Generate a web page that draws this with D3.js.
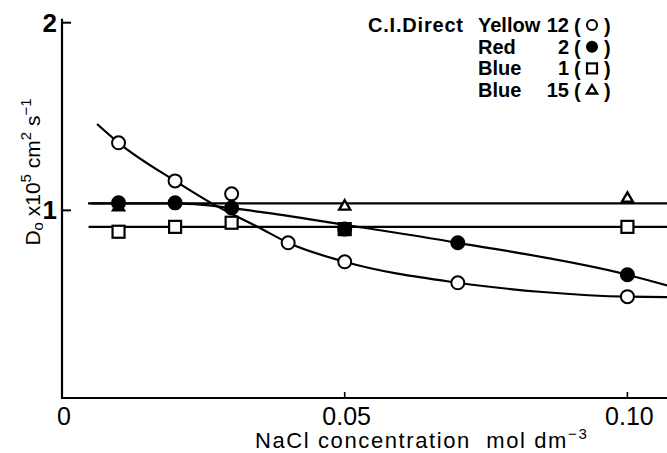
<!DOCTYPE html>
<html>
<head>
<meta charset="utf-8">
<script src="https://cdn.jsdelivr.net/npm/d3@7"></script>
<style>
    body { margin: 0; background: #fff; }
    svg { display: block; font-family: "Liberation Sans", Arial, sans-serif; }
    .tick-label { font-size: 25px; fill: #000; }
    .axis-title { font-size: 22px; fill: #000; }
    .legend { font-size: 20px; fill: #000; font-weight: bold; }
</style>
</head>
<body>
<div id="chart"></div>
<script>
// measured points, C.I. Direct dyes
const concYellow12 = [0.01, 0.02, 0.03, 0.04, 0.05, 0.07, 0.10];
const dYellow12 = [1.36, 1.157, 1.088, 0.827, 0.726, 0.614, 0.54];

const concRed2 = [0.01, 0.02, 0.03, 0.05, 0.07, 0.10];
const dRed2 = [1.04, 1.04, 1.013, 0.90, 0.827, 0.657];

const concBlue1 = [0.01, 0.02, 0.03, 0.05, 0.10];
const dBlue1 = [0.886, 0.912, 0.934, 0.90, 0.912];

const concBlue15 = [0.01, 0.05, 0.10];
const dBlue15 = [1.02, 1.024, 1.066];

// drawn-in curves
const fitYellowX = [0.0062, 0.01, 0.02, 0.0265, 0.035, 0.04, 0.05, 0.07, 0.085, 0.10, 0.107];
const fitYellowY = [1.46, 1.36, 1.157, 1.037, 0.906, 0.827, 0.726, 0.614, 0.565, 0.54, 0.538];
const fitRedX = [0.005, 0.02, 0.035, 0.05, 0.07, 0.10, 0.107];
const fitRedY = [1.037, 1.037, 0.992, 0.923, 0.827, 0.657, 0.6];
const fitBlue15X = [0.0046, 0.107];
const fitBlue15Y = [1.037, 1.037];
const fitBlue1X = [0.0047, 0.107];
const fitBlue1Y = [0.912, 0.912];

const xTicks = [0, 0.05, 0.10];
const xTickLabels = ['0', '0.05', '0.10'];
const yTicks = [1, 2];
const yTickLabels = ['1', '2'];

const legendNames = ['Yellow', 'Red', 'Blue', 'Blue'];
const legendNumbers = ['12', '2', '1', '15'];
const legendSymbols = ['circle', 'dot', 'square', 'triangle'];

const width = 667;
const height = 453;

const x = d3.scaleLinear().domain([0, 0.107]).range([62, 667]);
const y = d3.scaleLinear().domain([0, 2]).range([398, 22.7]);

const svg = d3.select('#chart')
    .append('svg')
    .attr('width', width)
    .attr('height', height);

// axes
svg.append('line')
    .attr('x1', x(0)).attr('x2', x(0))
    .attr('y1', y(2) - 4).attr('y2', y(0))
    .attr('stroke', '#000').attr('stroke-width', 2.2);

svg.append('line')
    .attr('x1', x(0) - 1).attr('x2', width)
    .attr('y1', y(0)).attr('y2', y(0))
    .attr('stroke', '#000').attr('stroke-width', 2.2);

yTicks.forEach((v, i) => {
    svg.append('line')
        .attr('x1', x(0)).attr('x2', x(0) + 9)
        .attr('y1', y(v)).attr('y2', y(v))
        .attr('stroke', '#000').attr('stroke-width', 2);
    svg.append('text')
        .attr('class', 'tick-label')
        .attr('x', x(0) - 5)
        .attr('y', y(v) + 9)
        .attr('text-anchor', 'end')
        .style('font-size', '26px')
        .style('font-weight', 'bold')
        .text(yTickLabels[i]);
});

xTicks.forEach((v, i) => {
    if (v > 0) {
        svg.append('line')
            .attr('x1', x(v)).attr('x2', x(v))
            .attr('y1', y(0)).attr('y2', y(0) - 6)
            .attr('stroke', '#000').attr('stroke-width', 1.6);
    }
    svg.append('text')
        .attr('class', 'tick-label')
        .attr('x', x(v) + 2)
        .attr('y', y(0) + 27)
        .attr('text-anchor', 'middle')
        .text(xTickLabels[i]);
});

// axis titles
const xTitle = svg.append('text')
    .attr('class', 'axis-title')
    .attr('x', 255)
    .attr('y', 448)
    .style('letter-spacing', '1.6px');
xTitle.append('tspan').text('NaCl concentration\u00a0\u00a0mol dm');
xTitle.append('tspan').attr('dy', -9).style('font-size', '15px').text('\u22123');

const yTitle = svg.append('text')
    .attr('class', 'axis-title')
    .attr('transform', 'translate(40, 172) rotate(-90)')
    .attr('text-anchor', 'middle')
    .style('font-size', '21px');
yTitle.append('tspan').text('D');
yTitle.append('tspan').attr('dy', 3).style('font-size', '15px').text('o');
yTitle.append('tspan').attr('dy', -3).text(' x10');
yTitle.append('tspan').attr('dy', -9).style('font-size', '15px').text('5');
yTitle.append('tspan').attr('dy', 9).text(' cm');
yTitle.append('tspan').attr('dy', -9).style('font-size', '15px').text('2');
yTitle.append('tspan').attr('dy', 9).text(' s');
yTitle.append('tspan').attr('dy', -9).style('font-size', '15px').text('\u22121');

// curves
const line = d3.line().x((d) => x(d[0])).y((d) => y(d[1]));
const smooth = d3.line().x((d) => x(d[0])).y((d) => y(d[1])).curve(d3.curveMonotoneX);

const curves = [
    { xs: fitBlue15X, ys: fitBlue15Y, gen: line },
    { xs: fitBlue1X, ys: fitBlue1Y, gen: line },
    { xs: fitRedX, ys: fitRedY, gen: smooth },
    { xs: fitYellowX, ys: fitYellowY, gen: smooth },
];

curves.forEach((c) => {
    svg.append('path')
        .attr('d', c.gen(c.xs.map((v, i) => [v, c.ys[i]])))
        .attr('fill', 'none')
        .attr('stroke', '#000')
        .attr('stroke-width', 2.2);
});

// markers
function drawMarker(g, kind, cx, cy, s) {
    const r = s || 6;
    if (kind === 'circle' || kind === 'dot') {
        g.append('circle')
            .attr('cx', cx).attr('cy', cy).attr('r', r)
            .attr('fill', kind === 'dot' ? '#000' : '#fff')
            .attr('stroke', '#000').attr('stroke-width', 2);
    } else if (kind === 'square') {
        g.append('rect')
            .attr('x', cx - r).attr('y', cy - r)
            .attr('width', r * 2).attr('height', r * 2)
            .attr('fill', '#fff')
            .attr('stroke', '#000').attr('stroke-width', 2.2);
    } else {
        const h = r * 1.7;
        g.append('path')
            .attr('d', `M${cx},${cy - h * 0.6} L${cx + r},${cy + h * 0.4} L${cx - r},${cy + h * 0.4} Z`)
            .attr('fill', '#fff')
            .attr('stroke', '#000').attr('stroke-width', 2.4)
            .attr('stroke-linejoin', 'miter');
    }
}

const marks = svg.append('g');
const series = [
    { xs: concBlue15, ys: dBlue15, kind: 'triangle', size: 5.5 },
    { xs: concBlue1, ys: dBlue1, kind: 'square', size: 6 },
    { xs: concRed2, ys: dRed2, kind: 'dot', size: 6.5 },
    { xs: concYellow12, ys: dYellow12, kind: 'circle', size: 6.5 },
];

series.forEach((s) => {
    s.xs.forEach((v, i) => drawMarker(marks, s.kind, x(v), y(s.ys[i]), s.size));
});

// legend
const legend = svg.append('g');
legend.append('text')
    .attr('class', 'legend')
    .attr('x', 368)
    .attr('y', 32)
    .style('letter-spacing', '0.8px')
    .text('C.I.Direct');

legendNames.forEach((name, i) => {
    const by = 32 + i * 21.7;
    legend.append('text')
        .attr('class', 'legend')
        .attr('x', 478)
        .attr('y', by)
        .text(name);
    legend.append('text')
        .attr('class', 'legend')
        .attr('x', 569)
        .attr('y', by)
        .attr('text-anchor', 'end')
        .text(legendNumbers[i]);
    legend.append('text')
        .attr('class', 'legend')
        .attr('x', 574)
        .attr('y', by + 1)
        .text('(');
    legend.append('text')
        .attr('class', 'legend')
        .attr('x', 604)
        .attr('y', by + 1)
        .text(')');
    drawMarker(legend, legendSymbols[i], 592, by - 7, 5);
});
</script>
</body>
</html>
